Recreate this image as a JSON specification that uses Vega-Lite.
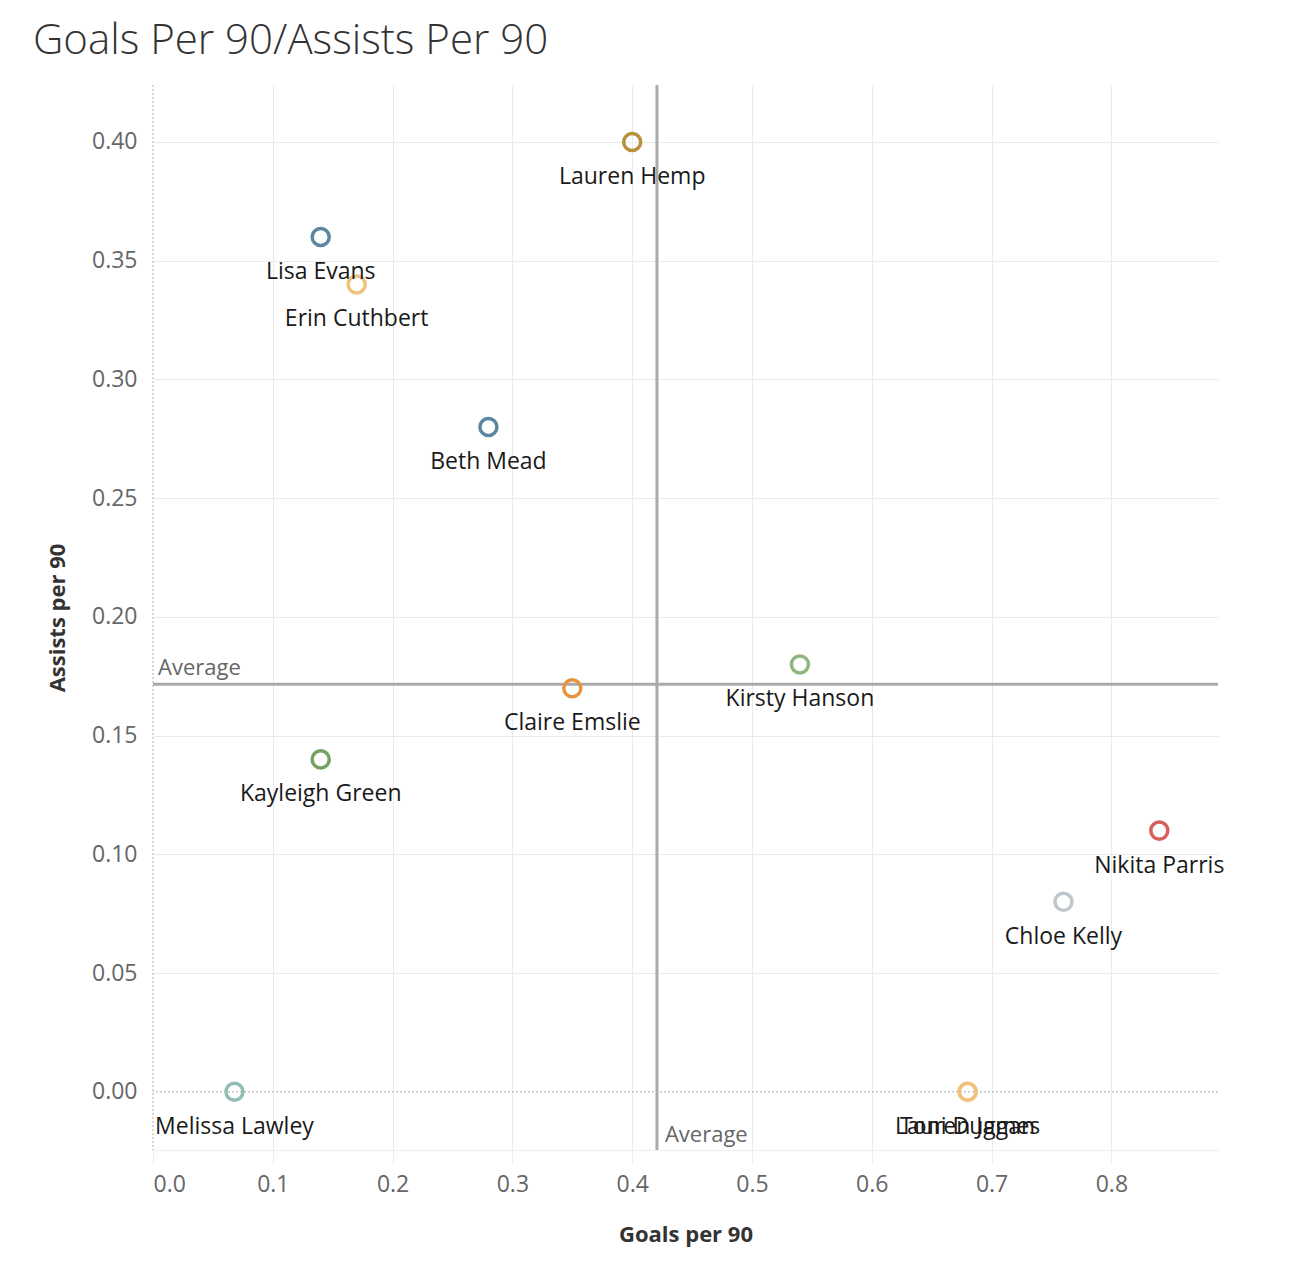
{
  "$schema": "https://vega.github.io/schema/vega-lite/v6.json",
  "width": 1065,
  "height": 1065,
  "autosize": {"type": "none"},
  "padding": {"left": 153, "top": 85, "right": 86, "bottom": 120},
  "background": "white",
  "config": {"view": {"stroke": null}, "font": "Open Sans"},
  "title": {
    "text": "Goals Per 90/Assists Per 90",
    "anchor": "start",
    "frame": "group",
    "dx": -120,
    "offset": 21,
    "fontSize": 42,
    "fontWeight": 300,
    "color": "#333333",
    "font": "Open Sans"
  },
  "data": {
    "values": [
      {"player": "Lauren Hemp", "goals": 0.40, "assists": 0.40},
      {"player": "Lisa Evans", "goals": 0.14, "assists": 0.36},
      {"player": "Erin Cuthbert", "goals": 0.17, "assists": 0.34},
      {"player": "Beth Mead", "goals": 0.28, "assists": 0.28},
      {"player": "Kirsty Hanson", "goals": 0.54, "assists": 0.18},
      {"player": "Claire Emslie", "goals": 0.35, "assists": 0.17},
      {"player": "Kayleigh Green", "goals": 0.14, "assists": 0.14},
      {"player": "Nikita Parris", "goals": 0.84, "assists": 0.11},
      {"player": "Chloe Kelly", "goals": 0.76, "assists": 0.08},
      {"player": "Melissa Lawley", "goals": 0.068, "assists": 0.0},
      {"player": "Toni Duggan", "goals": 0.68, "assists": 0.0},
      {"player": "Lauren James", "goals": 0.68, "assists": 0.0}
    ]
  },
  "encoding": {
    "x": {
      "field": "goals",
      "type": "quantitative",
      "scale": {"domain": [0, 0.889], "nice": false, "zero": false},
      "axis": {
        "title": "Goals per 90",
        "values": [0, 0.1, 0.2, 0.3, 0.4, 0.5, 0.6, 0.7, 0.8],
        "format": ".1f",
        "labelFontSize": 23,
        "labelColor": "#666666",
        "labelFont": "Open Sans",
        "labelFlush": true,
        "labelPadding": 9,
        "domainColor": "#eeeeee",
        "tickColor": "#eeeeee",
        "tickSize": 14,
        "gridColor": {"condition": {"test": "datum.value === 0", "value": null}, "value": "#eaeaea"},
        "titleFontSize": 22,
        "titleFontWeight": "bold",
        "titleColor": "#333333",
        "titlePadding": 28
      }
    },
    "y": {
      "field": "assists",
      "type": "quantitative",
      "scale": {"domain": [-0.0245, 0.424], "nice": false, "zero": false},
      "axis": {
        "title": "Assists per 90",
        "values": [0, 0.05, 0.1, 0.15, 0.2, 0.25, 0.3, 0.35, 0.4],
        "format": ".2f",
        "labelFontSize": 23,
        "labelColor": "#666666",
        "labelFont": "Open Sans",
        "labelPadding": 16,
        "domain": false,
        "ticks": false,
        "gridColor": {"condition": {"test": "datum.value === 0", "value": null}, "value": "#eaeaea"},
        "titleFontSize": 22,
        "titleFontWeight": "bold",
        "titleColor": "#333333",
        "titlePadding": 22
      }
    }
  },
  "layer": [
    {
      "data": {"values": [{"z": 0}]},
      "mark": {"type": "rule", "color": "#aaaaaa", "strokeDash": [2, 2], "strokeWidth": 1},
      "encoding": {"x": {"field": "z", "type": "quantitative"}, "y": null}
    },
    {
      "data": {"values": [{"z": 0}]},
      "mark": {"type": "rule", "color": "#aaaaaa", "strokeDash": [2, 2], "strokeWidth": 1},
      "encoding": {"y": {"field": "z", "type": "quantitative"}, "x": null}
    },
    {
      "mark": {"type": "rule", "color": "#aaaaaa", "strokeWidth": 3},
      "encoding": {"x": {"aggregate": "mean", "field": "goals", "type": "quantitative"}, "y": null}
    },
    {
      "mark": {"type": "rule", "color": "#aaaaaa", "strokeWidth": 3},
      "encoding": {"y": {"aggregate": "mean", "field": "assists", "type": "quantitative"}, "x": null}
    },
    {
      "transform": [
        {"aggregate": [{"op": "mean", "field": "goals", "as": "goals"}, {"op": "mean", "field": "assists", "as": "assists"}]}
      ],
      "layer": [
        {
          "mark": {"type": "text", "align": "left", "baseline": "alphabetic", "dx": 8, "fontSize": 22, "color": "#666666", "font": "Open Sans", "text": "Average"},
          "encoding": {
            "x": {"field": "goals", "type": "quantitative"},
            "y": {"datum": -0.021, "type": "quantitative"}
          }
        },
        {
          "mark": {"type": "text", "align": "left", "baseline": "alphabetic", "dx": 5, "dy": -9, "fontSize": 22, "color": "#666666", "font": "Open Sans", "text": "Average"},
          "encoding": {
            "y": {"field": "assists", "type": "quantitative"},
            "x": {"datum": 0, "type": "quantitative"}
          }
        }
      ]
    },
    {
      "mark": {"type": "point", "shape": "circle", "filled": false, "size": 290, "strokeWidth": 3.5, "opacity": 1},
      "encoding": {
        "color": {
          "field": "player",
          "type": "nominal",
          "legend": null,
          "scale": {
            "domain": ["Lauren Hemp", "Lisa Evans", "Erin Cuthbert", "Beth Mead", "Kirsty Hanson", "Claire Emslie", "Kayleigh Green", "Nikita Parris", "Chloe Kelly", "Melissa Lawley", "Toni Duggan", "Lauren James"],
            "range": ["#b8913b", "#5b87a0", "#f0c27d", "#5a86a0", "#8fb77d", "#e8943f", "#73a263", "#d4625a", "#bfc7cd", "#93bcb6", "#f0c27d", "#f0c27d"]
          }
        }
      }
    },
    {
      "mark": {"type": "text", "align": "center", "baseline": "top", "dy": 24, "fontSize": 23, "color": "#1a1a1a", "font": "Open Sans"},
      "encoding": {"text": {"field": "player", "type": "nominal"}}
    }
  ]
}
